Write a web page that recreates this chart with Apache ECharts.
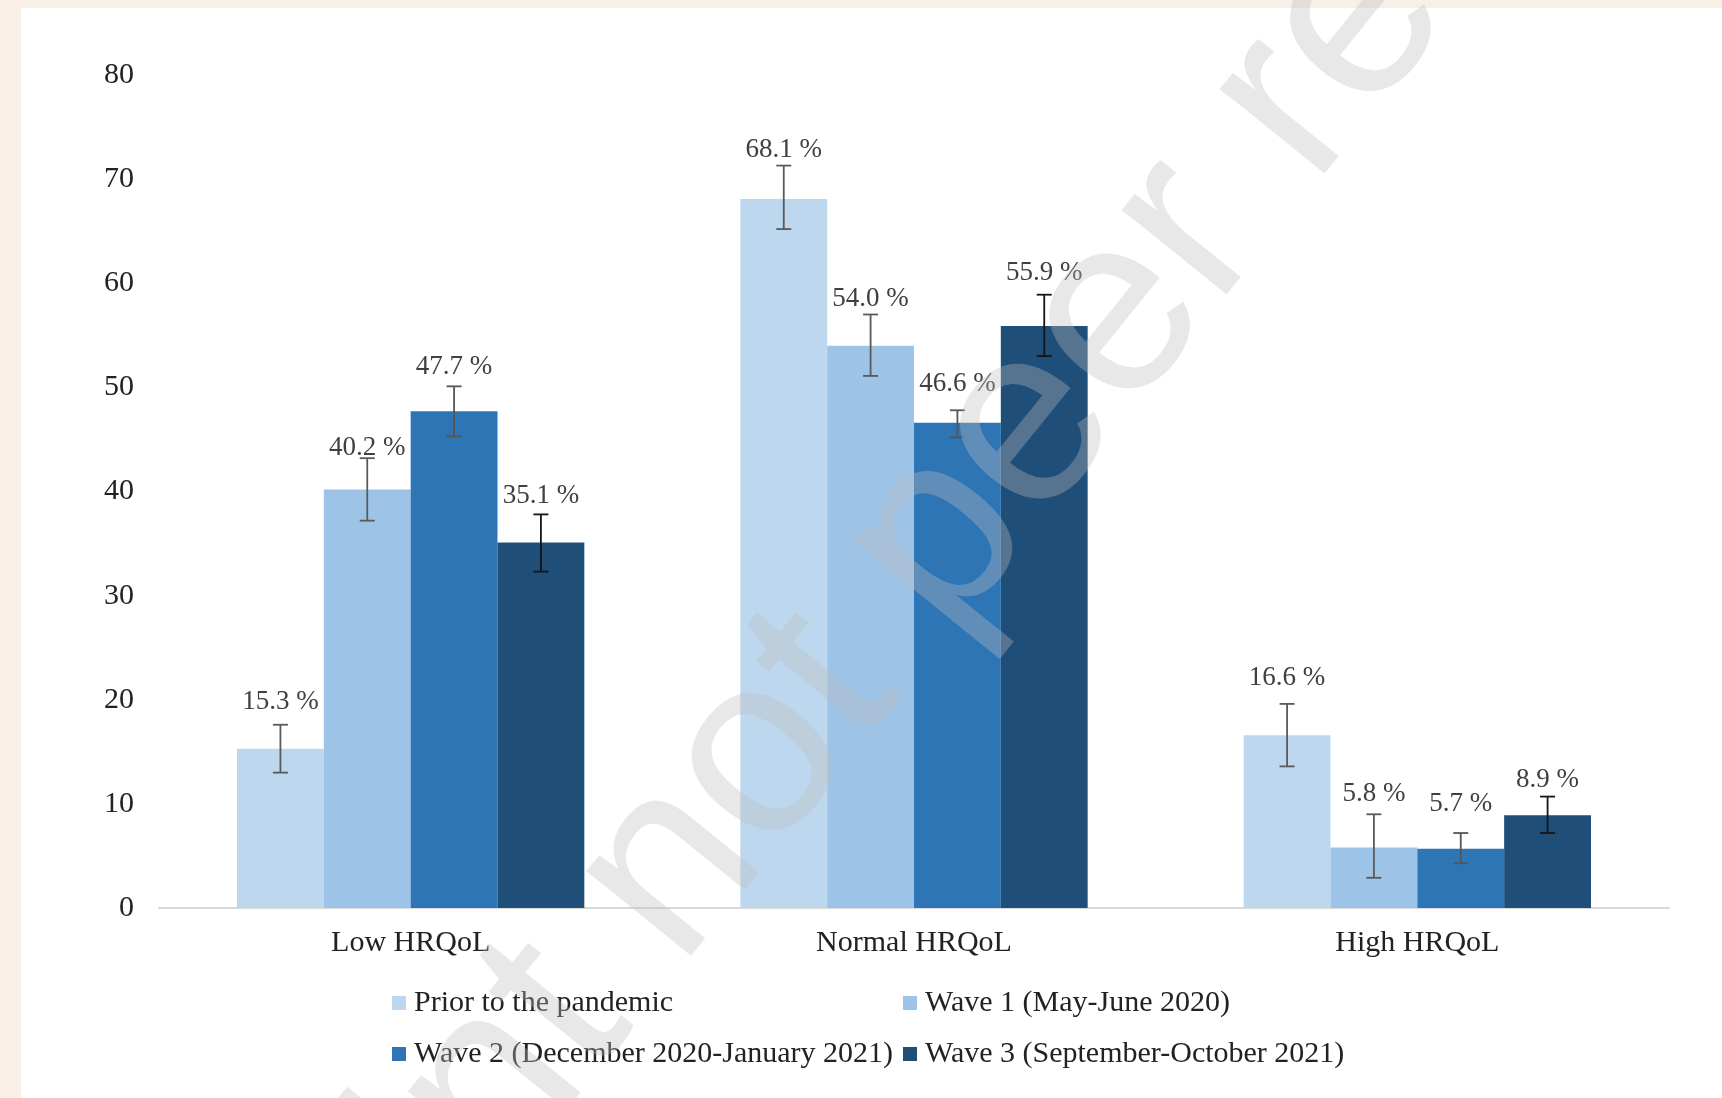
<!DOCTYPE html>
<html>
<head>
<meta charset="utf-8">
<script src="https://cdn.jsdelivr.net/npm/echarts@6/dist/echarts.min.js"></script>
<style>
  html, body { margin: 0; padding: 0; background: #f8efe6; width: 1722px; height: 1098px; overflow: hidden; }
  #panel { position: absolute; left: 21px; top: 8px; width: 1701px; height: 1090px; background: #ffffff; }
  #chart { position: absolute; left: 0; top: 0; width: 1722px; height: 1098px; }
</style>
</head>
<body>
<div id="panel"></div>
<div id="chart"></div>
<script>
// ---- Data ----
const categories = ['Low HRQoL', 'Normal HRQoL', 'High HRQoL'];
const seriesNames = [
  'Prior to the pandemic',
  'Wave 1 (May-June 2020)',
  'Wave 2 (December 2020-January 2021)',
  'Wave 3 (September-October 2021)'
];
const priorValues = [15.3, 68.1, 16.6];
const wave1Values = [40.2, 54.0, 5.8];
const wave2Values = [47.7, 46.6, 5.7];
const wave3Values = [35.1, 55.9, 8.9];

const priorLower = [13.0, 65.2, 13.6];
const priorUpper = [17.6, 71.3, 19.6];
const wave1Lower = [37.2, 51.1, 2.9];
const wave1Upper = [43.2, 57.0, 9.0];
const wave2Lower = [45.3, 45.2, 4.3];
const wave2Upper = [50.1, 47.8, 7.2];
const wave3Lower = [32.3, 53.0, 7.2];
const wave3Upper = [37.8, 58.9, 10.7];

const yMin = 0, yMax = 80, yInterval = 10;

// ---- Styling ----
const colors = ['#BDD7EE', '#9DC3E6', '#2E75B6', '#1F4E79'];
const errColors = ['#5a5a5a', '#5a5a5a', '#555555', '#151515'];
// label gap above each bar (style, px), per series, per category
const labelGaps = [
  [33, 36, 44],
  [28, 33, 40],
  [31, 25, 31],
  [33, 40, 22]
];
const serif = '"Liberation Serif", "Times New Roman", serif';
const gapRatio = 0.31;

const valueSets = [priorValues, wave1Values, wave2Values, wave3Values];
const lowerSets = [priorLower, wave1Lower, wave2Lower, wave3Lower];
const upperSets = [priorUpper, wave1Upper, wave2Upper, wave3Upper];

const chart = echarts.init(document.getElementById('chart'), null, { renderer: 'canvas' });

const barSeries = valueSets.map((vals, i) => ({
  name: seriesNames[i],
  type: 'bar',
  data: vals.map((v, k) => ({ value: v, label: { distance: labelGaps[i][k] } })),
  barGap: '0%',
  barCategoryGap: (gapRatio * 100) + '%',
  itemStyle: { color: colors[i] },
  z: 2,
  label: {
    show: true,
    position: 'top',
    formatter: p => Number(p.value).toFixed(1) + ' %',
    fontFamily: serif,
    fontSize: 27,
    color: '#404040'
  }
}));

const errSeries = valueSets.map((vals, i) => ({
  name: 'err' + i,
  type: 'custom',
  z: 5,
  silent: true,
  encode: { x: 0, y: [1, 2] },
  data: categories.map((c, k) => [k, lowerSets[i][k], upperSets[i][k]]),
  renderItem: function (params, api) {
    const cat = api.value(0);
    const lo = api.value(1);
    const hi = api.value(2);
    const band = api.size([1, 0])[0];
    const barW = band * (1 - gapRatio) / 4;
    const x = api.coord([cat, 0])[0] + (i - 1.5) * barW;
    const yHi = api.coord([cat, hi])[1];
    const yLo = api.coord([cat, lo])[1];
    const cap = 7.5;
    const st = { stroke: errColors[i], lineWidth: 1.8 };
    return {
      type: 'group',
      children: [
        { type: 'line', shape: { x1: x, y1: yHi, x2: x, y2: yLo }, style: st },
        { type: 'line', shape: { x1: x - cap, y1: yHi, x2: x + cap, y2: yHi }, style: st },
        { type: 'line', shape: { x1: x - cap, y1: yLo, x2: x + cap, y2: yLo }, style: st }
      ]
    };
  }
}));

const legendBase = {
  icon: 'rect',
  itemWidth: 14,
  itemHeight: 14,
  orient: 'horizontal',
  padding: 0,
  textStyle: { fontFamily: serif, fontSize: 30, color: '#222', padding: [0, 0, 0, 3] }
};

const option = {
  animation: false,
  backgroundColor: 'transparent',
  grid: { left: 159, right: 53, top: 75, bottom: 190, containLabel: false },
  legend: [
    Object.assign({}, legendBase, { data: [seriesNames[0]], left: 392, top: 988 }),
    Object.assign({}, legendBase, { data: [seriesNames[1]], left: 903, top: 988 }),
    Object.assign({}, legendBase, { data: [seriesNames[2]], left: 392, top: 1039 }),
    Object.assign({}, legendBase, { data: [seriesNames[3]], left: 903, top: 1039 })
  ],
  xAxis: {
    type: 'category',
    data: categories,
    axisTick: { show: false },
    axisLine: { show: true, lineStyle: { color: '#d9d9d9', width: 2 } },
    axisLabel: { fontFamily: serif, fontSize: 30, color: '#222', margin: 20 }
  },
  yAxis: {
    type: 'value',
    min: yMin,
    max: yMax,
    interval: yInterval,
    axisLine: { show: false },
    axisTick: { show: false },
    splitLine: { show: false },
    axisLabel: { fontFamily: serif, fontSize: 30, color: '#222', margin: 25 }
  },
  graphic: [{
    type: 'text',
    x: 960,
    y: 512,
    rotation: 51 * Math.PI / 180,
    z: 100,
    silent: true,
    style: {
      text: 'Preprint not peer reviewed',
      fontFamily: '"Liberation Sans", Arial, sans-serif',
      fontSize: 255,
      fill: 'rgba(190,190,190,0.35)',
      align: 'center',
      verticalAlign: 'middle'
    }
  }],
  series: barSeries.concat(errSeries)
};

chart.setOption(option);
</script>
</body>
</html>
